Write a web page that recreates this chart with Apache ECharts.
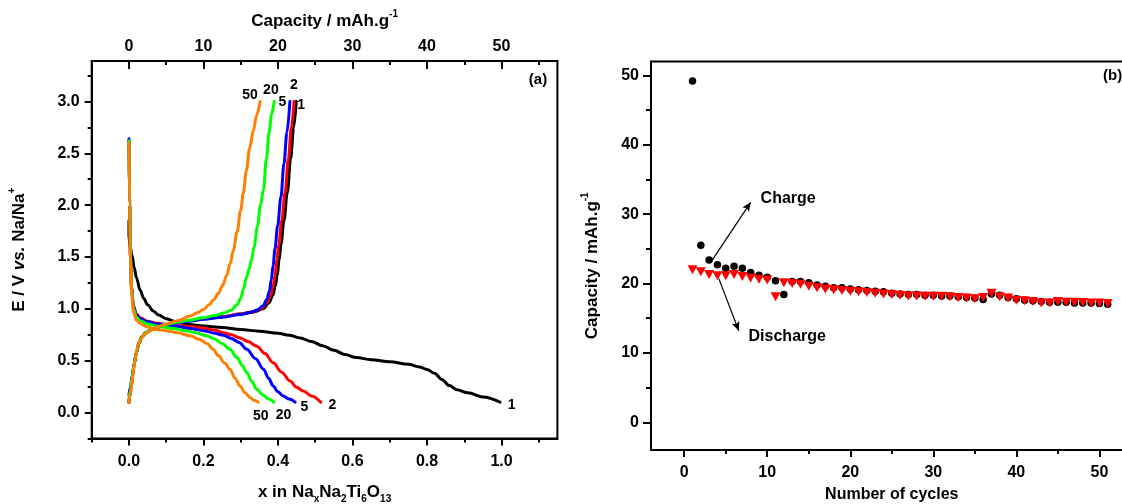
<!DOCTYPE html>
<html><head><meta charset="utf-8">
<script src="https://cdn.jsdelivr.net/npm/echarts@6/dist/echarts.min.js"></script>
<style>html,body{margin:0;padding:0;background:#fff}#c{width:1122px;height:504px}</style>
</head><body><div id="c"></div>
<script>
// ---------- Panel (a): E (V) vs x in NaxNa2Ti6O13 ----------
const cycle1Discharge = [[0,1.85],[0,1.7],[0.003,1.6],[0.008,1.52],[0.014,1.4],[0.02,1.3],[0.03,1.18],[0.04,1.1],[0.05,1.04],[0.065,0.98],[0.08,0.94],[0.1,0.905],[0.13,0.87],[0.16,0.85],[0.2,0.835],[0.25,0.82],[0.3,0.8],[0.35,0.785],[0.4,0.765],[0.43,0.745],[0.46,0.72],[0.49,0.685],[0.52,0.645],[0.55,0.6],[0.58,0.56],[0.61,0.53],[0.65,0.51],[0.7,0.49],[0.75,0.465],[0.78,0.44],[0.8,0.415],[0.82,0.38],[0.84,0.32],[0.86,0.26],[0.88,0.22],[0.91,0.19],[0.95,0.15],[0.996,0.1]];
const cycle1Charge = [[0,0.1],[0.002,0.16],[0.006,0.25],[0.01,0.36],[0.014,0.47],[0.02,0.58],[0.027,0.67],[0.035,0.73],[0.045,0.77],[0.06,0.8],[0.08,0.825],[0.1,0.845],[0.13,0.865],[0.16,0.885],[0.2,0.905],[0.25,0.925],[0.3,0.95],[0.335,0.97],[0.36,1.0],[0.376,1.06],[0.386,1.13],[0.393,1.22],[0.398,1.32],[0.403,1.47],[0.408,1.62],[0.416,1.85],[0.425,2.12],[0.434,2.45],[0.442,2.75],[0.449,3.0]];
const cycle2Discharge = [[0,2.62],[0.002,2.0],[0.004,1.5],[0.007,1.2],[0.012,1.03],[0.02,0.95],[0.03,0.915],[0.05,0.88],[0.074,0.861],[0.1,0.85],[0.13,0.84],[0.164,0.83],[0.2,0.815],[0.23,0.795],[0.253,0.77],[0.275,0.75],[0.298,0.72],[0.32,0.685],[0.343,0.64],[0.365,0.57],[0.387,0.48],[0.41,0.39],[0.432,0.305],[0.45,0.245],[0.468,0.208],[0.49,0.16],[0.515,0.1]];
const cycle2Charge = [[0,0.1],[0.002,0.16],[0.006,0.25],[0.01,0.36],[0.014,0.47],[0.02,0.58],[0.027,0.67],[0.035,0.73],[0.045,0.77],[0.06,0.8],[0.08,0.825],[0.1,0.845],[0.13,0.865],[0.16,0.885],[0.2,0.905],[0.25,0.925],[0.3,0.95],[0.33,0.97],[0.355,1.0],[0.37,1.06],[0.38,1.13],[0.387,1.22],[0.392,1.32],[0.397,1.47],[0.402,1.62],[0.41,1.85],[0.419,2.12],[0.428,2.45],[0.436,2.75],[0.443,3.0]];
const cycle5Discharge = [[0,2.64],[0.002,2.0],[0.004,1.5],[0.007,1.2],[0.012,1.02],[0.02,0.94],[0.03,0.905],[0.05,0.875],[0.074,0.855],[0.1,0.845],[0.13,0.83],[0.164,0.81],[0.2,0.79],[0.23,0.765],[0.253,0.745],[0.275,0.715],[0.296,0.675],[0.316,0.61],[0.34,0.52],[0.361,0.418],[0.375,0.33],[0.387,0.257],[0.4,0.2],[0.414,0.16],[0.43,0.13],[0.446,0.1]];
const cycle5Charge = [[0,0.17],[0.004,0.25],[0.009,0.36],[0.014,0.47],[0.02,0.58],[0.027,0.67],[0.035,0.73],[0.045,0.77],[0.06,0.8],[0.08,0.825],[0.1,0.845],[0.13,0.865],[0.16,0.88],[0.2,0.9],[0.25,0.92],[0.3,0.945],[0.325,0.965],[0.345,0.99],[0.36,1.03],[0.37,1.09],[0.377,1.17],[0.382,1.28],[0.387,1.42],[0.392,1.58],[0.399,1.8],[0.408,2.08],[0.416,2.4],[0.424,2.7],[0.432,3.0]];
const cycle20Discharge = [[0,2.62],[0.002,2.0],[0.004,1.5],[0.007,1.18],[0.012,1.0],[0.02,0.92],[0.03,0.885],[0.05,0.855],[0.074,0.835],[0.1,0.82],[0.119,0.81],[0.15,0.79],[0.18,0.77],[0.208,0.74],[0.23,0.71],[0.25,0.665],[0.271,0.61],[0.29,0.53],[0.305,0.45],[0.316,0.386],[0.33,0.3],[0.343,0.225],[0.36,0.17],[0.375,0.13],[0.389,0.1]];
const cycle20Charge = [[0,0.12],[0.004,0.22],[0.008,0.33],[0.013,0.45],[0.019,0.57],[0.026,0.66],[0.034,0.72],[0.045,0.77],[0.06,0.8],[0.08,0.83],[0.1,0.85],[0.13,0.87],[0.16,0.89],[0.2,0.915],[0.23,0.935],[0.255,0.96],[0.275,0.99],[0.29,1.04],[0.3,1.1],[0.307,1.19],[0.315,1.3],[0.322,1.38],[0.329,1.47],[0.336,1.6],[0.345,1.8],[0.353,2.0],[0.361,2.15],[0.369,2.45],[0.376,2.7],[0.383,2.88],[0.39,3.0]];
const cycle50Discharge = [[0,2.6],[0.002,2.0],[0.004,1.5],[0.007,1.15],[0.012,0.97],[0.02,0.89],[0.03,0.86],[0.05,0.825],[0.074,0.8],[0.1,0.79],[0.13,0.77],[0.164,0.74],[0.19,0.705],[0.21,0.665],[0.226,0.61],[0.24,0.55],[0.256,0.48],[0.271,0.418],[0.285,0.33],[0.298,0.257],[0.312,0.19],[0.325,0.145],[0.335,0.12],[0.347,0.1]];
const cycle50Charge = [[0,0.1],[0.003,0.17],[0.007,0.25],[0.011,0.37],[0.016,0.5],[0.022,0.62],[0.03,0.7],[0.04,0.75],[0.056,0.79],[0.08,0.83],[0.1,0.855],[0.13,0.885],[0.164,0.93],[0.185,0.965],[0.2,0.995],[0.215,1.04],[0.228,1.09],[0.24,1.15],[0.252,1.23],[0.262,1.32],[0.272,1.44],[0.28,1.56],[0.29,1.74],[0.3,1.95],[0.307,2.12],[0.315,2.33],[0.324,2.55],[0.334,2.72],[0.343,2.87],[0.352,3.0]];
const curveNames = ['1','2','5','20','50'];
const curveColors = ['#000000','#ff0000','#0000ff','#00ff00','#ff8000'];
const curveLabelsTop = [['1',0.462,2.96],['2',0.443,3.16],['5',0.412,2.99],['20',0.381,3.11],['50',0.325,3.06]];
const curveLabelsBottom = [['1',1.027,0.07],['2',0.546,0.07],['5',0.471,0.05],['20',0.415,-0.02],['50',0.354,-0.03]];
const xTicksMajorA = [0,0.2,0.4,0.6,0.8,1.0];
const xTicksMinorA = [-0.1,0.1,0.3,0.5,0.7,0.9,1.1];
const capTicksMajorA = [0,10,20,30,40,50];
const capTicksMinorA = [-5,5,15,25,35,45,55];
const eTicksMajor = [0,0.5,1.0,1.5,2.0,2.5,3.0];
const eTicksMinor = [-0.25,0.25,0.75,1.25,1.75,2.25,2.75,3.25];

// ---------- Panel (b): capacity vs cycle ----------
const cycleNumbers = [1,2,3,4,5,6,7,8,9,10,11,12,13,14,15,16,17,18,19,20,21,22,23,24,25,26,27,28,29,30,31,32,33,34,35,36,37,38,39,40,41,42,43,44,45,46,47,48,49,50,51];
const chargeCapacity = [49.2,25.5,23.4,22.7,22.2,22.5,22.2,21.6,21.2,20.9,20.4,18.4,20.3,20.3,20.1,19.8,19.6,19.4,19.4,19.2,19.1,19.0,18.9,18.8,18.6,18.5,18.4,18.4,18.3,18.3,18.2,18.2,18.1,18.0,17.9,17.7,18.5,18.3,18.0,17.8,17.6,17.5,17.4,17.3,17.3,17.3,17.2,17.2,17.2,17.1,17.0];
const dischargeCapacity = [22.0,21.7,21.3,21.1,21.1,21.3,21.0,20.8,20.6,20.5,18.1,20.1,20.0,19.9,19.6,19.4,19.2,19.1,19.0,18.9,18.8,18.7,18.6,18.5,18.4,18.3,18.2,18.2,18.15,18.15,18.15,18.1,18.0,17.9,17.8,18.0,18.6,18.1,17.9,17.6,17.5,17.4,17.2,17.2,17.4,17.3,17.3,17.25,17.2,17.2,17.1];
const cycTicksMajor = [0,10,20,30,40,50];
const cycTicksMinor = [5,15,25,35,45];
const capTicksMajorB = [0,10,20,30,40,50];
const capTicksMinorB = [5,15,25,35,45];
const arrowCharge = [[3.33,23.3],[8.0,31.7]];
const arrowDischarge = [[4.17,20.7],[6.57,13.2]];

const FONT = "'Liberation Sans', Arial, sans-serif";
const BLACK = '#000';

function axis(base, o) {
  return Object.assign({
    type: 'value', scale: false,
    axisLine: {show: false, onZero: false, lineStyle: {color: BLACK, width: 2}},
    splitLine: {show: false},
    axisLabel: {show: false},
    axisTick: {show: false}
  }, base, o);
}
function ticks(vals, len, inside) {
  return {show: true, customValues: vals, length: len, inside: !!inside, lineStyle: {color: BLACK, width: 2}};
}
function labels(vals, margin, fmt, size) {
  return {show: true, customValues: vals, margin: margin, color: BLACK, fontFamily: FONT, fontWeight: 'bold', fontSize: size, formatter: fmt};
}
const rich = {
  a: {fontFamily: FONT, fontWeight: 'bold', fontSize: 17, color: BLACK, lineHeight: 24},
  i: {fontFamily: FONT, fontWeight: 'bold', fontStyle: 'italic', fontSize: 17, color: BLACK, lineHeight: 24},
  s: {fontFamily: FONT, fontWeight: 'bold', fontSize: 10, color: BLACK, lineHeight: 10, verticalAlign: 'bottom'},
  p: {fontFamily: FONT, fontWeight: 'bold', fontSize: 10, color: BLACK, lineHeight: 10, verticalAlign: 'top'}
};

const gA = {xMin: -0.1, xMax: 1.15, yMin: -0.25, yMax: 3.39, cMin: -5, cMax: 57.5};
const gB = {xMin: -4, xMax: 54, yMin: -4, yMax: 52};

const xAxes = [
  axis({gridIndex: 0, position: 'bottom', min: gA.xMin, max: gA.xMax}, {
    axisLine: {show: true, onZero: false, lineStyle: {color: BLACK, width: 2}},
    axisTick: ticks(xTicksMajorA, 7),
    axisLabel: labels(xTicksMajorA, 15, v => v.toFixed(1), 16),
    name: '{a|x in Na}{s|x}{a|Na}{s|2}{a|Ti}{s|6}{a|O}{s|13}', nameLocation: 'middle', nameGap: 42,
    nameTextStyle: {rich: rich}
  }),
  axis({gridIndex: 0, position: 'bottom', min: gA.xMin, max: gA.xMax}, {axisTick: ticks(xTicksMinorA, 4)}),
  axis({gridIndex: 0, position: 'top', min: gA.cMin, max: gA.cMax}, {
    axisLine: {show: true, onZero: false, lineStyle: {color: BLACK, width: 2}},
    axisTick: ticks(capTicksMajorA, 8, true),
    axisLabel: labels(capTicksMajorA, 6, v => String(v), 16),
    name: '{a|Capacity / mAh.g}{p|-1}', nameLocation: 'middle', nameGap: 28,
    nameTextStyle: {rich: rich}
  }),
  axis({gridIndex: 0, position: 'top', min: gA.cMin, max: gA.cMax}, {axisTick: ticks(capTicksMinorA, 4, true)}),
  axis({gridIndex: 1, position: 'bottom', min: gB.xMin, max: gB.xMax}, {
    axisLine: {show: true, onZero: false, lineStyle: {color: BLACK, width: 2}},
    axisTick: ticks(cycTicksMajor, 7),
    axisLabel: labels(cycTicksMajor, 15, v => String(v), 16),
    name: 'Number of cycles', nameLocation: 'middle', nameGap: 37,
    nameTextStyle: {fontFamily: FONT, fontWeight: 'bold', fontSize: 16, color: BLACK}
  }),
  axis({gridIndex: 1, position: 'bottom', min: gB.xMin, max: gB.xMax}, {axisTick: ticks(cycTicksMinor, 4)})
];
const yAxes = [
  axis({gridIndex: 0, position: 'left', min: gA.yMin, max: gA.yMax}, {
    axisLine: {show: true, onZero: false, lineStyle: {color: BLACK, width: 2}},
    axisTick: ticks(eTicksMajor, 7),
    axisLabel: labels(eTicksMajor, 12, v => v.toFixed(1), 16),
    name: '{a|E / V }{i|vs.}{a| Na/Na}{p|+}', nameLocation: 'middle', nameGap: 60,
    nameTextStyle: {rich: rich}
  }),
  axis({gridIndex: 0, position: 'left', min: gA.yMin, max: gA.yMax}, {axisTick: ticks(eTicksMinor, 4)}),
  axis({gridIndex: 1, position: 'left', min: gB.yMin, max: gB.yMax}, {
    axisLine: {show: true, onZero: false, lineStyle: {color: BLACK, width: 2}},
    axisTick: ticks(capTicksMajorB, 8),
    axisLabel: labels(capTicksMajorB, 12, v => String(v), 16),
    name: '{a|Capacity / mAh.g}{p|-1}', nameLocation: 'middle', nameGap: 47,
    nameTextStyle: {rich: rich, padding: [0, 20, 0, 0]}
  }),
  axis({gridIndex: 1, position: 'left', min: gB.yMin, max: gB.yMax}, {axisTick: ticks(capTicksMinorB, 5)})
];

const curves = [
  [cycle1Discharge, cycle1Charge],
  [cycle2Discharge, cycle2Charge],
  [cycle5Discharge, cycle5Charge],
  [cycle20Discharge, cycle20Charge],
  [cycle50Discharge, cycle50Charge]
];
const series = [];
curves.forEach((pair, k) => {
  pair.forEach((d, j) => {
    series.push({
      type: 'line', name: 'cycle ' + curveNames[k] + (j ? ' charge' : ' discharge'),
      xAxisIndex: 0, yAxisIndex: 0, data: d,
      showSymbol: false, symbol: 'none', smooth: 0.35, smoothMonotone: 'x', clip: true,
      lineStyle: {color: curveColors[k], width: 3, cap: 'round', join: 'round'},
      z: 2 + k, animation: false
    });
  });
});
series.push({
  type: 'scatter', name: 'Charge', xAxisIndex: 4, yAxisIndex: 2,
  data: cycleNumbers.map((n, i) => [n, chargeCapacity[i]]),
  symbol: 'circle', symbolSize: 7.5, itemStyle: {color: '#000', opacity: 1}, z: 3, animation: false,
  markLine: {
    silent: true, symbol: ['none', 'arrow'], symbolSize: 9, animation: false, precision: 3,
    lineStyle: {color: '#000', width: 1.2, type: 'solid', opacity: 1}, label: {show: false},
    emphasis: {disabled: true},
    data: [
      [{coord: arrowCharge[0], symbol: 'none'}, {coord: arrowCharge[1], symbol: 'arrow', symbolSize: [6, 9]}],
      [{coord: arrowDischarge[0], symbol: 'none'}, {coord: arrowDischarge[1], symbol: 'arrow', symbolSize: [6, 9]}]
    ]
  }
});
series.push({
  type: 'scatter', name: 'Discharge', xAxisIndex: 4, yAxisIndex: 2,
  data: cycleNumbers.map((n, i) => [n, dischargeCapacity[i]]),
  symbol: 'triangle', symbolRotate: 180, symbolSize: [10, 9], itemStyle: {color: '#ff0000', opacity: 1}, z: 4, animation: false
});

const chart = echarts.init(document.getElementById('c'), null, {renderer: 'canvas'});
chart.setOption({
  backgroundColor: '#fff',
  animation: false,
  grid: [
    {left: 91.7, width: 465.7, top: 61, height: 377.5, containLabel: false, outerBoundsMode: 'none', show: true, borderColor: BLACK, borderWidth: 2, backgroundColor: 'transparent'},
    {left: 651, width: 481.6, top: 61.5, height: 388.5, containLabel: false, outerBoundsMode: 'none', show: true, borderColor: BLACK, borderWidth: 2, backgroundColor: 'transparent'}
  ],
  xAxis: xAxes,
  yAxis: yAxes,
  series: series
});

// text annotations placed through the axes' scales
const tA = (p) => chart.convertToPixel({xAxisIndex: 0, yAxisIndex: 0}, p);
const tB = (p) => chart.convertToPixel({xAxisIndex: 4, yAxisIndex: 2}, p);
const g = [];
function addText(text, pt, size, align) {
  g.push({type: 'text', x: pt[0], y: pt[1], z: 100, silent: true,
    style: {text: text, fill: '#000', font: 'bold ' + size + 'px ' + FONT,
      align: align || 'center', verticalAlign: 'middle', textAlign: align || 'center', textVerticalAlign: 'middle'}});
}
curveLabelsTop.forEach(l => addText(l[0], tA([l[1], l[2]]), 14));
curveLabelsBottom.forEach(l => addText(l[0], tA([l[1], l[2]]), 14));
addText('(a)', tA([1.098, 3.205]), 15);
addText('(b)', tB([50.45, 50.0]), 15, 'left');
addText('Charge', tB([9.2, 32.3]), 16, 'left');
addText('Discharge', tB([7.75, 12.4]), 16, 'left');
chart.setOption({graphic: g});
</script></body></html>
